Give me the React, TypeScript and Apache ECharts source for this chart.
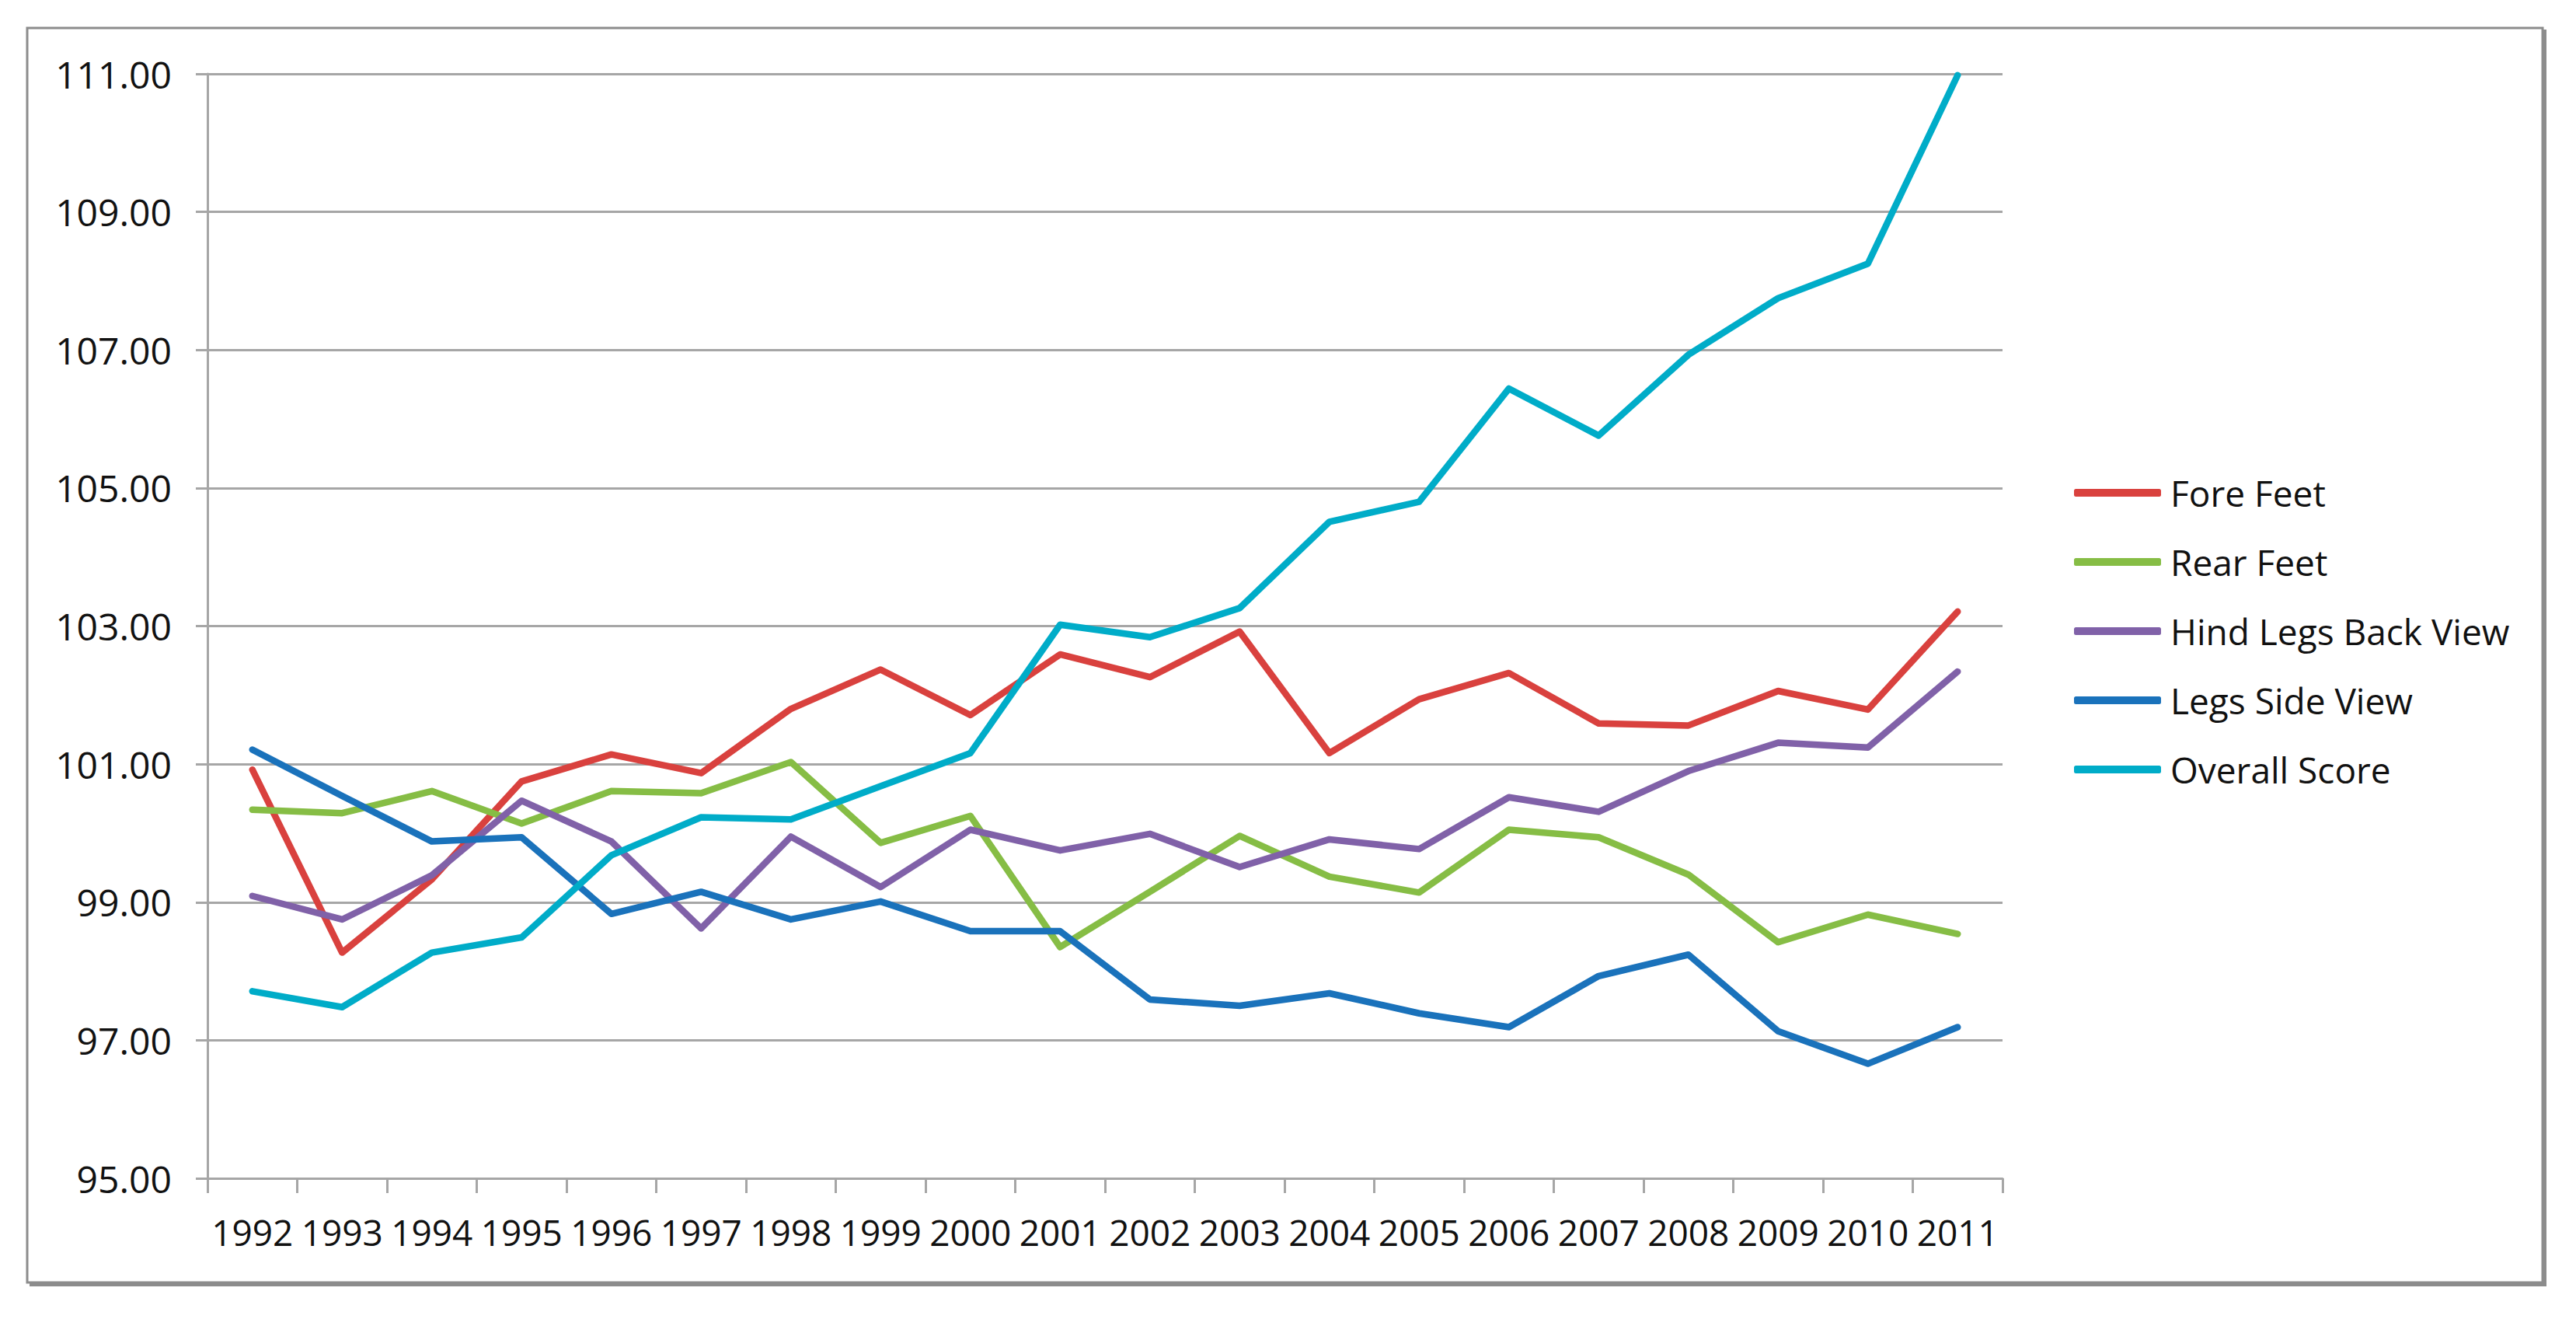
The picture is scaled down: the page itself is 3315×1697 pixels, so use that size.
import React, { useEffect, useRef } from "react";
import * as echarts from "echarts";

const years = ["1992","1993","1994","1995","1996","1997","1998","1999","2000","2001","2002","2003","2004","2005","2006","2007","2008","2009","2010","2011"];

const foreFeet = [100.92, 98.27, 99.33, 100.75, 101.14, 100.87, 101.8, 102.37, 101.71, 102.59, 102.26, 102.92, 101.16, 101.94, 102.32, 101.59, 101.56, 102.06, 101.79, 103.21];
const rearFeet = [100.34, 100.29, 100.61, 100.14, 100.61, 100.58, 101.03, 99.86, 100.25, 98.35, 99.15, 99.96, 99.37, 99.14, 100.05, 99.94, 99.4, 98.42, 98.82, 98.54];
const hindLegsBackView = [99.09, 98.75, 99.39, 100.47, 99.88, 98.62, 99.95, 99.22, 100.05, 99.75, 99.99, 99.51, 99.91, 99.77, 100.52, 100.31, 100.9, 101.31, 101.24, 102.34];
const legsSideView = [101.21, 100.54, 99.88, 99.94, 98.83, 99.15, 98.75, 99.01, 98.58, 98.58, 97.59, 97.5, 97.68, 97.39, 97.19, 97.93, 98.24, 97.13, 96.66, 97.19];
const overallScore = [97.71, 97.48, 98.27, 98.49, 99.68, 100.23, 100.2, 100.68, 101.16, 103.02, 102.84, 103.26, 104.51, 104.8, 106.44, 105.76, 106.93, 107.75, 108.25, 110.98];

const seriesNames = ["Fore Feet", "Rear Feet", "Hind Legs Back View", "Legs Side View", "Overall Score"];
const seriesColors = ["#d9413e", "#86bd45", "#8061a8", "#1a72bb", "#00acc8"];
const seriesData = [foreFeet, rearFeet, hindLegsBackView, legsSideView, overallScore];

const FONT = "'Open Sans', 'Noto Sans', sans-serif";

export default function App() {
  const ref = useRef<HTMLDivElement>(null);
  useEffect(() => {
    if (!ref.current) return;
    const chart = echarts.init(ref.current, undefined, { renderer: "svg" });
    const option: any = {
      animation: false,
      backgroundColor: "#ffffff",
      textStyle: { fontFamily: FONT },
      grid: { left: 267, right: 738, top: 95, bottom: 181, containLabel: false },
      legend: {
        orient: "vertical",
        left: 2664,
        top: 604,
        icon: "roundRect",
        itemWidth: 112,
        itemHeight: 10,
        itemGap: 39,
        data: seriesNames,
        textStyle: {
          fontFamily: FONT,
          fontSize: 46,
          lineHeight: 50,
          color: "#111111",
          padding: [0, 0, 0, 7],
        },
      },
      xAxis: {
        type: "category",
        data: years,
        boundaryGap: true,
        axisLine: { show: true, lineStyle: { color: "#a6a6a6", width: 3 } },
        axisTick: { show: true, interval: 0, length: 19, lineStyle: { color: "#a6a6a6", width: 3 } },
        axisLabel: { interval: 0, fontSize: 46, color: "#111111", margin: 46, fontFamily: FONT },
        splitLine: { show: false },
      },
      yAxis: {
        type: "value",
        min: 95,
        max: 111,
        interval: 2,
        axisLine: { show: true, lineStyle: { color: "#a6a6a6", width: 3 } },
        axisTick: { show: true, length: 15, lineStyle: { color: "#a6a6a6", width: 3 } },
        axisLabel: {
          fontSize: 48,
          color: "#111111",
          margin: 46,
          fontFamily: FONT,
          formatter: (v: number) => v.toFixed(2),
        },
        splitLine: { show: true, lineStyle: { color: "#a6a6a6", width: 3 } },
      },
      graphic: [
        {
          type: "rect",
          shape: { x: 35, y: 36, width: 3237, height: 1614 },
          style: { fill: "none", stroke: "#8c8c8c", lineWidth: 3 },
          silent: true,
        },
        {
          type: "line",
          shape: { x1: 3275, y1: 38, x2: 3275, y2: 1655 },
          style: { stroke: "#8c8c8c", lineWidth: 4 },
          silent: true,
        },
        {
          type: "line",
          shape: { x1: 38, y1: 1653, x2: 3277, y2: 1653 },
          style: { stroke: "#8c8c8c", lineWidth: 4 },
          silent: true,
        },
      ],
      series: seriesNames.map((name, i) => ({
        name,
        type: "line",
        data: seriesData[i],
        symbol: "none",
        showSymbol: false,
        smooth: false,
        itemStyle: { color: seriesColors[i] },
        lineStyle: { color: seriesColors[i], width: 8.5, cap: "round", join: "round" },
      })),
    };
    chart.setOption(option);
    return () => chart.dispose();
  }, []);
  return (
    <div
      ref={ref}
      style={{ position: "absolute", left: 0, top: 0, width: "3315px", height: "1697px" }}
    />
  );
}
